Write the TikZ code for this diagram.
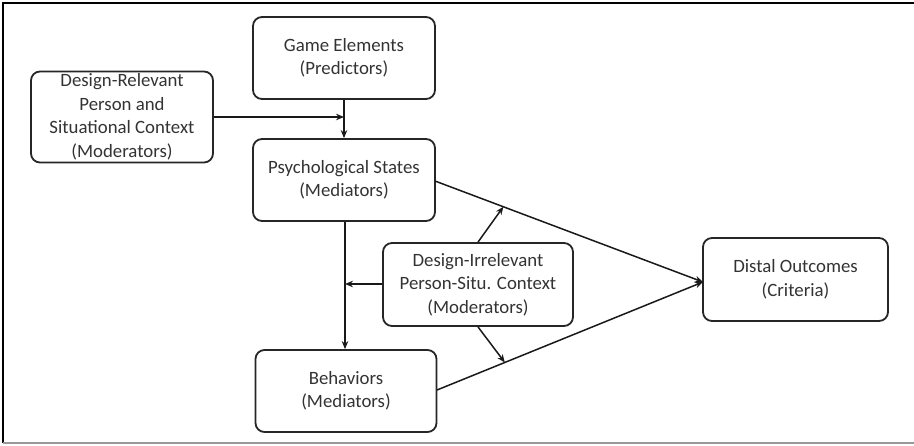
\documentclass[tikz,border=0pt]{standalone}
\usepackage{fontspec}
\setmainfont{Carlito}
\usetikzlibrary{arrows.meta,calc}
\begin{document}
\begin{tikzpicture}[x=1pt,y=-1pt,
  box/.style={draw=black!85,line width=1.8pt,rounded corners=9pt,align=center,
    font=\fontsize{18.8}{23.5}\selectfont,text=black!80,inner sep=0pt},
  conn/.style={draw=black!90,line width=1.5pt,-{Stealth[length=8pt,width=6.5pt]}},
  plain/.style={draw=black!90,line width=1.5pt}]
\useasboundingbox (0,0) rectangle (914,445);
\draw[line width=2pt] (914,3) -- (3,3) -- (3,443);
\draw[line width=1.5pt,black!40] (3,443) -- (914,443);
\node[box,minimum width=182pt,minimum height=82pt] (game) at (344,58) {Game Elements\\(Predictors)};
\node[box,minimum width=182pt,minimum height=91pt] (drel) at (122,117) {Design-Relevant\\Person and\\Situational Context\\(Moderators)};
\node[box,minimum width=182pt,minimum height=82pt] (psych) at (344,180) {Psychological States\\(Mediators)};
\node[box,minimum width=190pt,minimum height=83pt] (dirr) at (478,284.5) {Design-Irrelevant\\Person-Situ. Context\\(Moderators)};
\node[box,minimum width=181pt,minimum height=82pt] (beh) at (346,391) {Behaviors\\(Mediators)};
\node[box,minimum width=185pt,minimum height=83pt] (dist) at (795.5,279.5) {Distal Outcomes\\(Criteria)};
\coordinate (m1) at (344,117);
\coordinate (m2) at (345,284);
\coordinate (pd) at (435,181);
\coordinate (bd) at (437,390);
\coordinate (dt) at (703,282);
\coordinate (u1) at ($(pd)!0.255!(dt)$);
\coordinate (u2) at ($(bd)!0.255!(dt)$);
\draw[conn] (game.south) -- (psych.north);
\draw[conn] (drel.east |- m1) -- (m1);
\draw[conn] (psych.south -| m2) -- (beh.north -| m2);
\draw[conn] (dirr.west |- m2) -- (m2);
\draw[conn] (pd) -- (dt);
\draw[conn] (bd) -- (dt);
\draw[conn] (dirr.north) -- (u1);
\draw[conn] (dirr.south) -- (u2);
\end{tikzpicture}
\end{document}
